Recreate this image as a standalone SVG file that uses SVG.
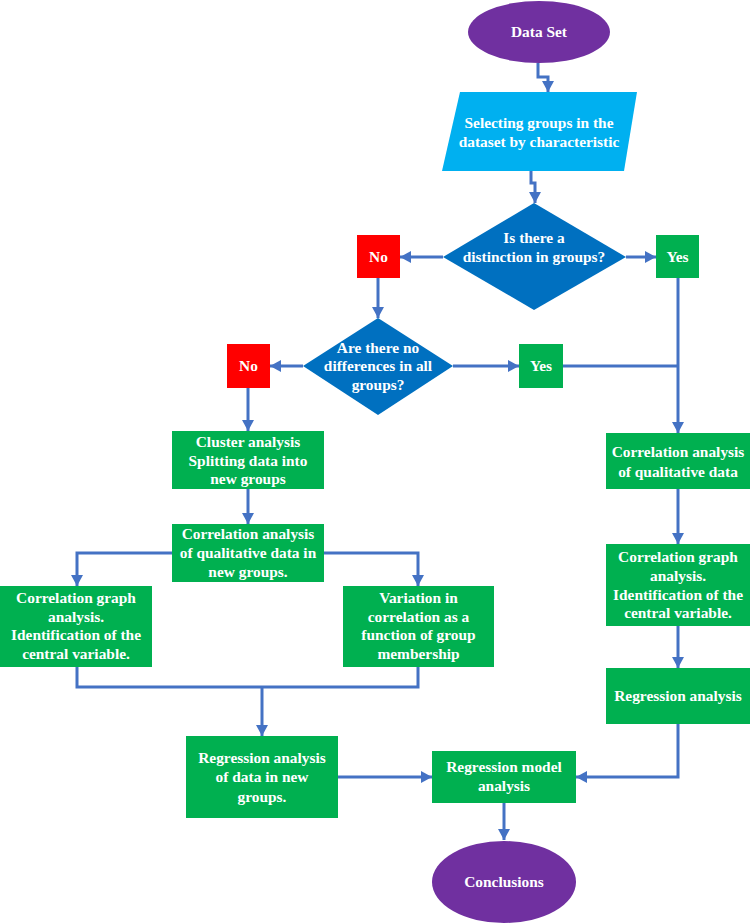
<svg xmlns="http://www.w3.org/2000/svg" width="750" height="923" viewBox="0 0 750 923">
<style>
.t{font-family:"Liberation Serif","Times New Roman",serif;font-weight:bold;font-size:15.4px;fill:#fff;text-anchor:middle}
.g{fill:#00B050}
.c{fill:none;stroke:#4472C4;stroke-width:3}
.a{marker-end:url(#ah)}
</style>
<defs>
<marker id="ah" markerUnits="userSpaceOnUse" markerWidth="14" markerHeight="14" refX="11" refY="6" orient="auto">
<path d="M0,0 L11,6 L0,12 Z" fill="#4472C4"/>
</marker>
</defs>
<rect width="750" height="923" fill="#fff"/>
<g id="connectors">
<path class="c a" d="M538,63 V77 H548 V92"/>
<path class="c a" d="M531,171 V183 H535 V203"/>
<path class="c a" d="M443,257 H400"/>
<path class="c a" d="M626,257 H656"/>
<path class="c a" d="M378,278 V318"/>
<path class="c a" d="M303,366 H270"/>
<path class="c a" d="M453,366 H519"/>
<path class="c" d="M563,366 H678"/>
<path class="c a" d="M678,278 V433"/>
<path class="c a" d="M248,388 V431"/>
<path class="c a" d="M248,489 V524"/>
<path class="c a" d="M172,553 H77 V586"/>
<path class="c a" d="M324,553 H418 V586"/>
<path class="c" d="M77,667 V687 H418 V667"/>
<path class="c a" d="M262,687 V736"/>
<path class="c a" d="M338,777 H432"/>
<path class="c a" d="M678,724 V777 H576"/>
<path class="c a" d="M504,803 V840"/>
<path class="c a" d="M678,489 V544"/>
<path class="c a" d="M678,626 V668"/>
</g>
<g id="dataset">
<ellipse cx="539" cy="32" rx="71" ry="31" fill="#7030A0"/>
<text class="t" x="539" y="37">Data Set</text>
</g>
<g id="selecting">
<polygon points="460,92 637,92 624,171 442,171" fill="#00B0F0"/>
<text class="t" x="539" y="128">Selecting groups in the</text>
<text class="t" x="539" y="147">dataset by characteristic</text>
</g>
<g id="decision1">
<polygon points="534,203 626,257 534,310 443,257" fill="#0070C0"/>
<text class="t" x="534" y="243">Is there a</text>
<text class="t" x="534" y="262">distinction in groups?</text>
</g>
<g id="no1">
<rect x="357" y="235" width="43" height="43" fill="#FF0000"/>
<text class="t" x="378.5" y="262">No</text>
</g>
<g id="yes1">
<rect x="656" y="235" width="43" height="43" class="g"/>
<text class="t" x="677.5" y="262">Yes</text>
</g>
<g id="decision2">
<polygon points="378,318 453,366 378,415 303,366" fill="#0070C0"/>
<text class="t" x="378" y="353">Are there no</text>
<text class="t" x="378" y="371">differences in all</text>
<text class="t" x="378" y="390">groups?</text>
</g>
<g id="no2">
<rect x="227" y="344" width="43" height="44" fill="#FF0000"/>
<text class="t" x="248.5" y="371">No</text>
</g>
<g id="yes2">
<rect x="519" y="344" width="44" height="44" class="g"/>
<text class="t" x="541" y="371">Yes</text>
</g>
<g id="cluster">
<rect x="172" y="431" width="152" height="58" class="g"/>
<text class="t" x="248" y="447">Cluster analysis</text>
<text class="t" x="248" y="466">Splitting data into</text>
<text class="t" x="248" y="484">new groups</text>
</g>
<g id="corrNew">
<rect x="172" y="524" width="152" height="58" class="g"/>
<text class="t" x="248" y="539">Correlation analysis</text>
<text class="t" x="248" y="558">of qualitative data in</text>
<text class="t" x="248" y="577">new groups.</text>
</g>
<g id="graphLeft">
<rect x="0" y="586" width="152" height="81" class="g"/>
<text class="t" x="76" y="603">Correlation graph</text>
<text class="t" x="76" y="622">analysis.</text>
<text class="t" x="76" y="640">Identification of the</text>
<text class="t" x="76" y="659">central variable.</text>
</g>
<g id="variation">
<rect x="343" y="586" width="151" height="81" class="g"/>
<text class="t" x="418.5" y="603">Variation in</text>
<text class="t" x="418.5" y="622">correlation as a</text>
<text class="t" x="418.5" y="640">function of group</text>
<text class="t" x="418.5" y="659">membership</text>
</g>
<g id="regNew">
<rect x="186" y="736" width="152" height="82" class="g"/>
<text class="t" x="262" y="763">Regression analysis</text>
<text class="t" x="262" y="782">of data in new</text>
<text class="t" x="262" y="802">groups.</text>
</g>
<g id="corrRight">
<rect x="606" y="433" width="144" height="56" class="g"/>
<text class="t" x="678" y="457">Correlation analysis</text>
<text class="t" x="678" y="477">of qualitative data</text>
</g>
<g id="graphRight">
<rect x="606" y="544" width="144" height="82" class="g"/>
<text class="t" x="678" y="562">Correlation graph</text>
<text class="t" x="678" y="581">analysis.</text>
<text class="t" x="678" y="600">Identification of the</text>
<text class="t" x="678" y="618">central variable.</text>
</g>
<g id="regRight">
<rect x="606" y="668" width="144" height="56" class="g"/>
<text class="t" x="678" y="701">Regression analysis</text>
</g>
<g id="model">
<rect x="432" y="751" width="144" height="52" class="g"/>
<text class="t" x="504" y="772">Regression model</text>
<text class="t" x="504" y="791">analysis</text>
</g>
<g id="conclusions">
<ellipse cx="504" cy="882" rx="72" ry="41" fill="#7030A0"/>
<text class="t" x="504" y="887">Conclusions</text>
</g>
</svg>
